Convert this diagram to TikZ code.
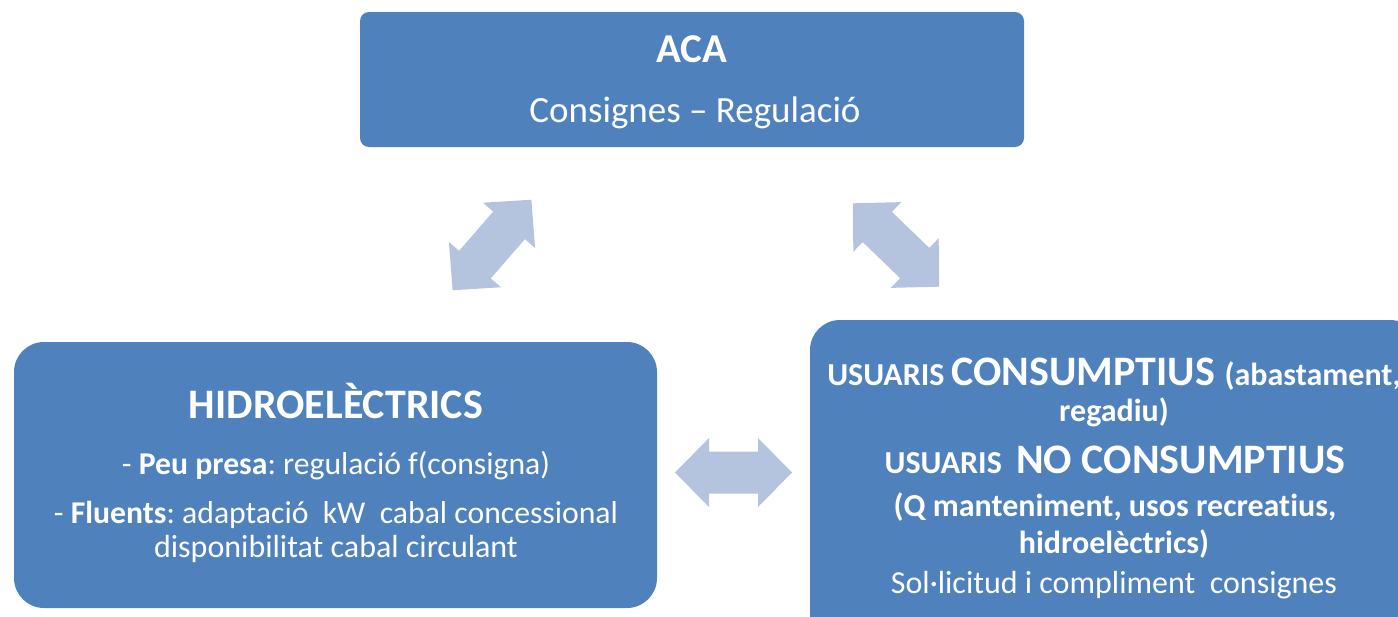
\documentclass[tikz,border=0pt]{standalone}
\usepackage{fontspec}
\setmainfont{Carlito}[Ligatures=NoCommon]
\definecolor{boxblue}{HTML}{4F81BD}
\definecolor{arrowblue}{HTML}{B4C4DF}
\newcommand{\fsz}[1]{\fontsize{#1}{#1}\selectfont}
\tikzset{
  box/.style={fill=boxblue, draw=none, inner sep=0pt},
  txt/.style={text=white, anchor=base, inner sep=0pt},
  dblarrow/.style={fill=arrowblue, draw=none},
}
\begin{document}
\frenchspacing
\begin{tikzpicture}[x=1pt,y=-1pt]
\useasboundingbox (0,0) rectangle (1398,616);
\begin{scope}
\clip (0,0) rectangle (1398,616);
% boxes
\node[box, rounded corners=9pt, minimum width=664pt, minimum height=135pt] (aca) at (692,79.5) {};
\node[box, rounded corners=30pt, minimum width=643pt, minimum height=266pt] (hidro) at (335.5,475) {};
\node[box, rounded corners=30pt, minimum width=610pt, minimum height=330pt] (usuaris) at (1115,485) {};
\end{scope}
% top box text
\node[txt, font=\fsz{41}\bfseries] (acaT) at (692,62) {ACA};
\node[txt, font=\fsz{37}] (acaS) at (695,122) {Consignes – Regulació};
% left box text
\node[txt, font=\fsz{42}\bfseries] (hidT) at (336,418) {HIDROELÈCTRICS};
\node[txt, font=\fsz{31.7}] (hidA) at (336,474) {- \textbf{Peu presa}: regulació f(consigna)};
\node[txt, font=\fsz{31.7}] (hidB) at (336,523) {- \textbf{Fluents}: adaptació\ \ kW\ \ cabal concessional};
\node[txt, font=\fsz{32}] (hidC) at (336,557) {disponibilitat cabal circulant};
% right box text
\node[txt, font=\bfseries] (usA) at (1114,385) {\fsz{32}USUARIS \fsz{42}CONSUMPTIUS \fsz{32}(abastament,};
\node[txt, font=\fsz{32}\bfseries] (usB) at (1114,421) {regadiu)};
\node[txt, font=\bfseries] (usC) at (1115,473) {\fsz{32}USUARIS\ \ \fsz{42}NO CONSUMPTIUS};
\node[txt, font=\fsz{32}\bfseries] (usD) at (1115,516) {(Q manteniment, usos recreatius,};
\node[txt, font=\fsz{32}\bfseries] (usE) at (1114,553) {hidroelèctrics)};
\node[txt, font=\fsz{32}] (usF) at (1114,593) {Sol·licitud i compliment\ \ consignes};
% double arrows
\begin{scope}[shift={(492,245)}, rotate=49]
\fill[dblarrow] (-60,0) -- (-26,-34.5) -- (-26,-21) -- (26,-21) -- (26,-34.5) -- (60,0) -- (26,34.5) -- (26,21) -- (-26,21) -- (-26,34.5) -- cycle;
\end{scope}
\begin{scope}[shift={(896,245)}, rotate=-44]
\fill[dblarrow] (-60,0) -- (-26,-34.5) -- (-26,-21) -- (26,-21) -- (26,-34.5) -- (60,0) -- (26,34.5) -- (26,21) -- (-26,21) -- (-26,34.5) -- cycle;
\end{scope}
\begin{scope}[shift={(733.5,472.5)}]
\fill[dblarrow] (-58.5,0) -- (-24.5,-34.5) -- (-24.5,-21) -- (24.5,-21) -- (24.5,-34.5) -- (58.5,0) -- (24.5,34.5) -- (24.5,21) -- (-24.5,21) -- (-24.5,34.5) -- cycle;
\end{scope}
\end{tikzpicture}
\end{document}
